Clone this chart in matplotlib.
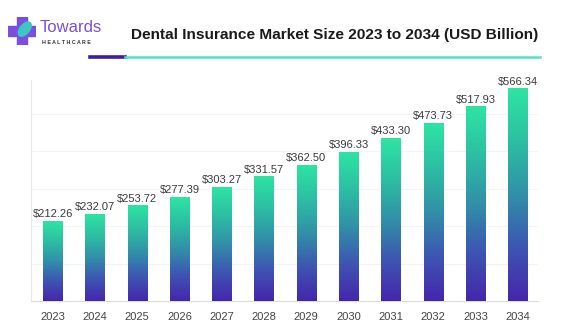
import numpy as np
import matplotlib.pyplot as plt
from matplotlib.colors import LinearSegmentedColormap
from matplotlib.patches import Polygon, Ellipse

# data
years = ["2023", "2024", "2025", "2026", "2027", "2028",
         "2029", "2030", "2031", "2032", "2033", "2034"]
values = [212.26, 232.07, 253.72, 277.39, 303.27, 331.57,
          362.50, 396.33, 433.30, 473.73, 517.93, 566.34]

W, H = 585, 334
plt.rcParams['font.family'] = ['Liberation Sans', 'DejaVu Sans']

fig = plt.figure(figsize=(W / 100, H / 100), dpi=100)
fig.patch.set_facecolor('white')

# main axes
ax = fig.add_axes([31 / W, 1 - 301 / H, (538 - 31) / W, (301 - 80) / H])

cmap = LinearSegmentedColormap.from_list(
    "bars", ['#4526ac', '#3d55b2', '#3190a8', '#2cbfa3', '#2ee4a2'])
grad = np.linspace(0, 1, 256).reshape(-1, 1)
bw = 0.45
for i, v in enumerate(values):
    x0 = i - bw / 2
    ax.imshow(grad, cmap=cmap, origin='lower', aspect='auto',
              extent=[x0, x0 + bw, 0, v], zorder=3)
    ax.text(i, v + 6, "${:.2f}".format(v), ha='center', va='bottom',
            fontsize=8, color='#3a3a3a', zorder=4)
ax.set_xlim(-0.51, 11.48)
ax.set_ylim(0, 590)

ax.set_xticks(range(len(years)))
ax.set_xticklabels(years, fontsize=8, color='#444444')
ax.tick_params(axis='x', length=0, pad=8)
ax.set_yticks([100, 200, 300, 400, 500])
ax.set_yticklabels([])
ax.tick_params(axis='y', length=0)
ax.grid(axis='y', color='#f4f4f4', linewidth=0.8, zorder=0)
for s in ['top', 'right']:
    ax.spines[s].set_visible(False)
ax.spines['left'].set_color('#e8e8e8')
ax.spines['bottom'].set_color('#dcdcdc')

# title and underline
fig.text(335 / W, 1 - 35 / H, "Dental Insurance Market Size 2023 to 2034 (USD Billion)",
         ha='center', va='center', fontsize=11.1, fontweight='bold', color='#1a1a1a')
fig.add_artist(plt.Line2D([90 / W, 125 / W], [1 - 57 / H] * 2,
                          color='#3a1fa6', linewidth=2.6))
fig.add_artist(plt.Line2D([125 / W, 540 / W], [1 - 57 / H] * 2,
                          color='#4fe3c8', linewidth=1.8))

# logo
lax = fig.add_axes([8 / W, 1 - 45 / H, 28 / W, 28 / H])
lax.set_xlim(0, 30)
lax.set_ylim(0, 30)
lax.axis('off')
cross = [(10, 0), (20, 0), (20, 10), (30, 10), (30, 20), (20, 20), (20, 30),
         (10, 30), (10, 20), (0, 20), (0, 10), (10, 10)]
lax.add_patch(Polygon(cross, closed=True, color='#7a4fe0'))
lax.add_patch(Ellipse((18, 17), 10, 18, angle=-40, color='#3cc8c0'))
fig.text(40 / W, 1 - 27 / H, "Towards", ha='left', va='center',
         fontsize=12, color='#7a4fd8')
fig.text(42 / W, 1 - 42 / H, "H E A L T H C A R E", ha='left', va='center',
         fontsize=3.8, color='#333333', fontweight='bold')

fig.savefig("out.png", dpi=100)
